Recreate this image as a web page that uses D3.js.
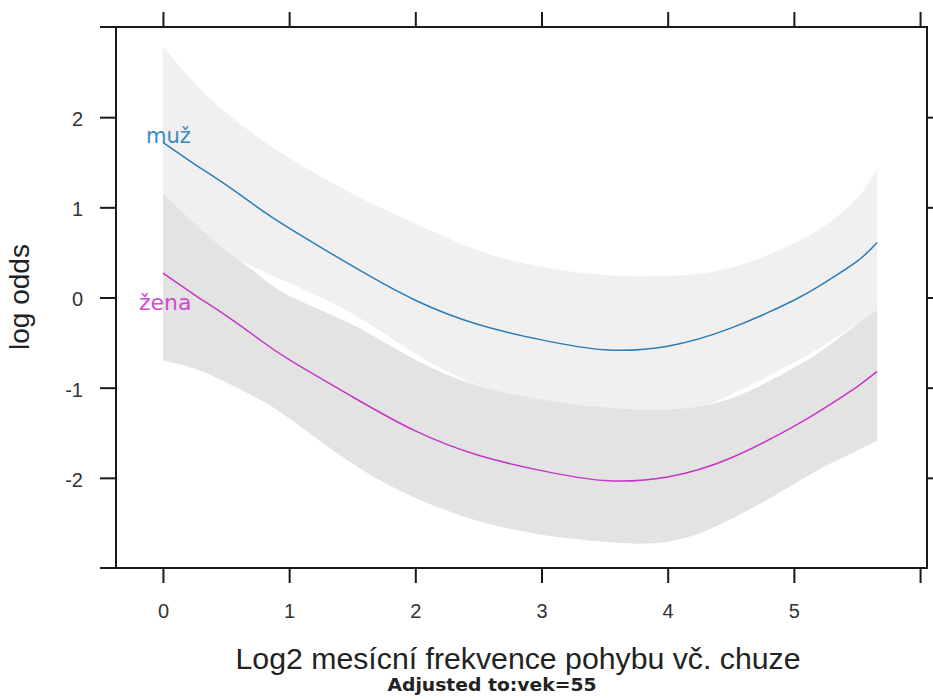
<!DOCTYPE html>
<html>
<head>
<meta charset="utf-8">
<script src="https://cdn.jsdelivr.net/npm/d3@7/dist/d3.min.js"></script>
<style>
  html, body { margin: 0; padding: 0; background: #ffffff; }
  svg { display: block; }
</style>
</head>
<body>
<svg id="chart" width="933" height="700"></svg>
<script>
// ---- data ----
const xGrid     = [0, 0.25, 0.5, 0.75, 1, 1.5, 2, 2.5, 3, 3.5, 4, 4.5, 5, 5.25, 5.5, 5.66];
const muzFit    = [1.72, 1.48, 1.25, 1.00, 0.77, 0.35, -0.03, -0.30, -0.47, -0.58, -0.54, -0.34, -0.03, 0.17, 0.40, 0.61];
const muzUpper  = [2.78, 2.38, 2.05, 1.78, 1.55, 1.15, 0.82, 0.52, 0.34, 0.25, 0.24, 0.33, 0.60, 0.80, 1.10, 1.43];
const muzLower  = [0.66, 0.58, 0.46, 0.32, 0.16, -0.18, -0.62, -0.97, -1.16, -1.32, -1.32, -1.08, -0.72, -0.52, -0.30, -0.20];
const zenaFit   = [0.27, 0.03, -0.20, -0.45, -0.69, -1.10, -1.48, -1.75, -1.92, -2.03, -1.99, -1.78, -1.43, -1.22, -0.99, -0.82];
const zenaUpper = [1.15, 0.82, 0.52, 0.26, 0.02, -0.30, -0.69, -0.98, -1.13, -1.22, -1.24, -1.12, -0.78, -0.56, -0.30, -0.14];
const zenaLower = [-0.70, -0.79, -0.94, -1.12, -1.34, -1.84, -2.22, -2.48, -2.63, -2.71, -2.71, -2.46, -2.07, -1.87, -1.70, -1.59];
const groupNames = ["muž", "žena"];
const xTicks = [0, 1, 2, 3, 4, 5, 6];
const xTickLabels = ["0", "1", "2", "3", "4", "5", ""];
const yTicks = [-2, -1, 0, 1, 2];
const yTickLabels = ["-2", "-1", "0", "1", "2"];
const xTitle = "Log2 mesícní frekvence pohybu vč. chuze";
const yTitle = "log odds";
const subTitle = "Adjusted to:vek=55";

// ---- layout ----
const pL = 116, pR = 927, pT = 27, pB = 568;
const svg = d3.select("#chart");

const x = d3.scaleLinear().domain([-0.372, 6.055]).range([pL, pR]);
const y = d3.scaleLinear().domain([-3, 3]).range([pB, pT]);

const rows = (fit, lo, hi) => xGrid.map((v, i) => ({ x: v, fit: fit[i], lo: lo[i], hi: hi[i] }));
const muz = rows(muzFit, muzLower, muzUpper);
const zena = rows(zenaFit, zenaLower, zenaUpper);

const area = d3.area().x(d => x(d.x)).y0(d => y(d.lo)).y1(d => y(d.hi)).curve(d3.curveNatural);
const line = d3.line().x(d => x(d.x)).y(d => y(d.fit)).curve(d3.curveNatural);

svg.append("path").datum(muz).attr("d", area).attr("fill", "#f0f0f0");
svg.append("path").datum(zena).attr("d", area).attr("fill", "#e3e3e3");

svg.append("path").datum(muz).attr("d", line).attr("fill", "none")
  .attr("stroke", "#2b7cb8").attr("stroke-width", 1.5);
svg.append("path").datum(zena).attr("d", line).attr("fill", "none")
  .attr("stroke", "#c635c6").attr("stroke-width", 1.5);

// group labels
svg.append("text").attr("x", 146).attr("y", 143).text(groupNames[0])
  .attr("font-family", "DejaVu Sans").attr("font-size", 21).attr("fill", "#3a8ac6");
svg.append("text").attr("x", 139).attr("y", 310).text(groupNames[1])
  .attr("font-family", "DejaVu Sans").attr("font-size", 22).attr("fill", "#d14ad1");

// ---- frame and axes ----
const ink = "#1a1a1a";
const g = svg.append("g").attr("stroke", ink).attr("stroke-width", 2).attr("fill", "none");
g.append("line").attr("x1", 100).attr("x2", pR + 1).attr("y1", pT).attr("y2", pT);
g.append("line").attr("x1", 100).attr("x2", pR + 1).attr("y1", pB).attr("y2", pB);
g.append("line").attr("x1", pL).attr("x2", pL).attr("y1", pT).attr("y2", pB);
g.append("line").attr("x1", pR).attr("x2", pR).attr("y1", pT).attr("y2", pB);

const axB = d3.axisBottom(x).tickValues(xTicks).tickSize(15).tickFormat((d, i) => xTickLabels[i]);
const axT = d3.axisTop(x).tickValues(xTicks).tickSize(15).tickFormat("");
const axL = d3.axisLeft(y).tickValues(yTicks).tickSize(16).tickFormat((d, i) => yTickLabels[i]);
const axR = d3.axisRight(y).tickValues(yTicks).tickSize(16).tickFormat("");

function style(sel) {
  sel.select(".domain").remove();
  sel.selectAll(".tick line").attr("stroke", ink).attr("stroke-width", 2);
  sel.selectAll(".tick text").attr("font-family", "Liberation Sans, Arial, sans-serif")
    .attr("font-size", 20).attr("fill", "#333");
}
svg.append("g").attr("transform", `translate(0,${pB})`).call(axB).call(style)
  .selectAll(".tick text").attr("dy", null).attr("y", 50);
svg.append("g").attr("transform", `translate(0,${pT})`).call(axT).call(style);
svg.append("g").attr("transform", `translate(${pL},0)`).call(axL).call(style)
  .selectAll(".tick text").attr("x", -33).attr("dy", "0.42em");
svg.append("g").attr("transform", `translate(${pR},0)`).call(axR).call(style);

// ---- titles ----
svg.append("text").attr("x", 518).attr("y", 669).attr("text-anchor", "middle")
  .attr("font-family", "Liberation Sans, Arial, sans-serif").attr("font-size", 29.5)
  .attr("fill", "#222").attr("textLength", 565).attr("lengthAdjust", "spacingAndGlyphs").text(xTitle);
svg.append("text").attr("x", 492).attr("y", 691).attr("text-anchor", "middle")
  .attr("font-family", "DejaVu Sans").attr("font-weight", "bold").attr("font-size", 17.5)
  .attr("fill", "#222").attr("textLength", 209).attr("lengthAdjust", "spacingAndGlyphs").text(subTitle);
svg.append("text").attr("transform", "translate(29,297) rotate(-90)").attr("text-anchor", "middle")
  .attr("font-family", "Liberation Sans, Arial, sans-serif").attr("font-size", 28)
  .attr("fill", "#222").text(yTitle);
</script>
</body>
</html>
